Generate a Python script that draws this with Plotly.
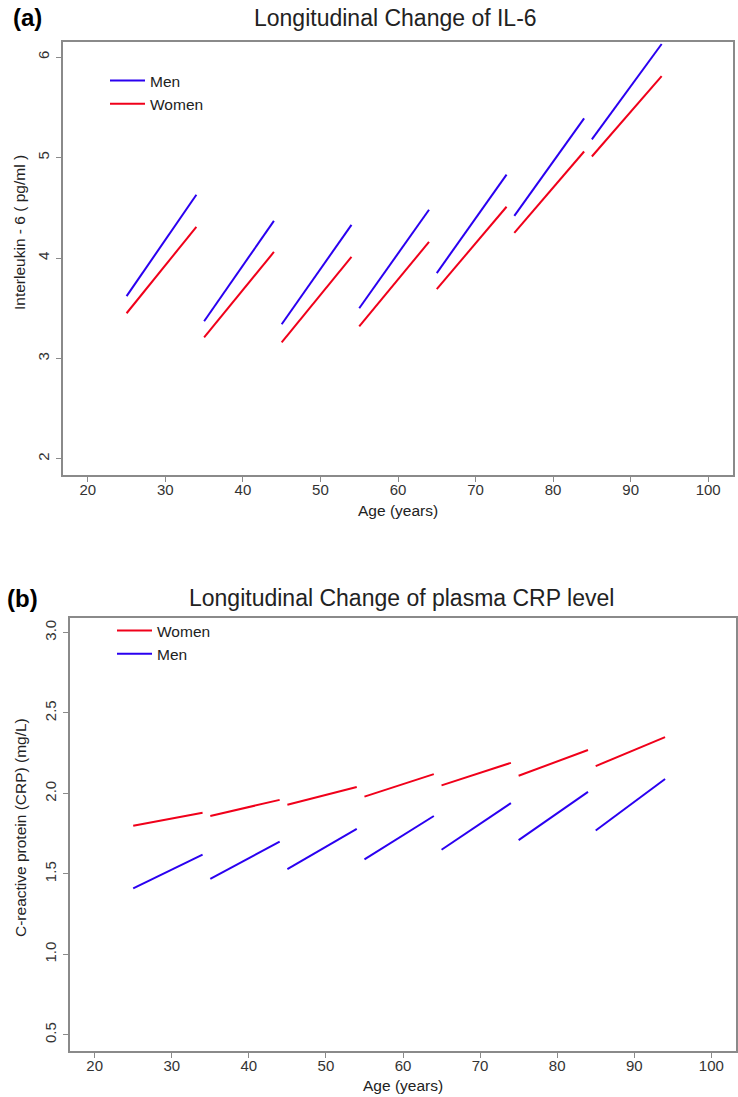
import plotly.graph_objects as go

# Age windows for each follow-up segment
seg_start_age = [25, 35, 45, 55, 65, 75, 85]
seg_end_age = [34, 44, 54, 64, 74, 84, 94]

# (a) IL-6, pg/ml
il6_men_start = [3.62, 3.37, 3.34, 3.50, 3.85, 4.42, 5.18]
il6_men_end = [4.63, 4.37, 4.33, 4.48, 4.83, 5.39, 6.13]
il6_women_start = [3.45, 3.21, 3.16, 3.32, 3.69, 4.25, 5.01]
il6_women_end = [4.31, 4.06, 4.01, 4.16, 4.51, 5.06, 5.81]

# (b) CRP, mg/L
crp_women_start = [1.80, 1.86, 1.93, 1.98, 2.05, 2.11, 2.17]
crp_women_end = [1.88, 1.96, 2.04, 2.12, 2.19, 2.27, 2.35]
crp_men_start = [1.41, 1.47, 1.53, 1.59, 1.65, 1.71, 1.77]
crp_men_end = [1.62, 1.70, 1.78, 1.86, 1.94, 2.01, 2.09]

x_ticks = [20, 30, 40, 50, 60, 70, 80, 90, 100]
il6_ticks = [2, 3, 4, 5, 6]
crp_ticks = [0.5, 1.0, 1.5, 2.0, 2.5, 3.0]
crp_tick_text = ["0.5", "1.0", "1.5", "2.0", "2.5", "3.0"]

BLUE = "#2a00f0"
RED = "#f0001a"
FONT = "Liberation Sans, Arial, sans-serif"
W, H = 738, 1097


def segments(starts, ends):
    # join the short segments into one trace, broken by None
    xs, ys = [], []
    for a0, a1, v0, v1 in zip(seg_start_age, seg_end_age, starts, ends):
        xs += [a0, a1, None]
        ys += [v0, v1, None]
    return xs, ys


fig = go.Figure()

x, y = segments(il6_men_start, il6_men_end)
fig.add_trace(go.Scatter(x=x, y=y, mode="lines", name="Men", line=dict(color=BLUE, width=2),
                         xaxis="x", yaxis="y", legend="legend"))
x, y = segments(il6_women_start, il6_women_end)
fig.add_trace(go.Scatter(x=x, y=y, mode="lines", name="Women", line=dict(color=RED, width=2),
                         xaxis="x", yaxis="y", legend="legend"))

x, y = segments(crp_women_start, crp_women_end)
fig.add_trace(go.Scatter(x=x, y=y, mode="lines", name="Women", line=dict(color=RED, width=2),
                         xaxis="x2", yaxis="y2", legend="legend2"))
x, y = segments(crp_men_start, crp_men_end)
fig.add_trace(go.Scatter(x=x, y=y, mode="lines", name="Men", line=dict(color=BLUE, width=2),
                         xaxis="x2", yaxis="y2", legend="legend2"))

axis_style = dict(showline=True, linecolor="#8a8a8a", linewidth=1.5, mirror=True,
                  ticks="outside", ticklen=5, tickcolor="#8a8a8a", showgrid=False, zeroline=False,
                  tickfont=dict(size=15, color="#333333"))
x_style = dict(axis_style, ticklabelstandoff=-5)
y_style = dict(axis_style, ticklabelstandoff=1)

fig.update_layout(
    width=W, height=H,
    margin=dict(l=0, r=0, t=0, b=0),
    paper_bgcolor="white", plot_bgcolor="white",
    font=dict(family=FONT, color="#222222"),
    showlegend=True,
    xaxis=dict(domain=[63 / W, 733 / W], range=[16.8, 103.2], tickvals=x_ticks,
               anchor="y", **x_style),
    yaxis=dict(domain=[1 - 475 / H, 1 - 42 / H], range=[1.84, 6.15], tickvals=il6_ticks,
               tickangle=-90, anchor="x", **y_style),
    xaxis2=dict(domain=[70 / W, 736 / W], range=[16.8, 103.2], tickvals=x_ticks,
                anchor="y2", **x_style),
    yaxis2=dict(domain=[1 - 1051 / H, 1 - 618 / H], range=[0.40, 3.09], tickvals=crp_ticks,
                ticktext=crp_tick_text, tickangle=-90, anchor="x2", **y_style),
    legend=dict(x=105 / W, y=1 - 64 / H, xanchor="left", yanchor="top", bgcolor="rgba(0,0,0,0)",
                font=dict(size=15.5, color="#222222"), itemwidth=35),
    legend2=dict(x=112 / W, y=1 - 614 / H, xanchor="left", yanchor="top", bgcolor="rgba(0,0,0,0)",
                 font=dict(size=15.5, color="#222222"), itemwidth=35),
)

annotations = [
    dict(text="Longitudinal Change of IL-6", x=395 / W, y=1 - 18 / H, font=dict(size=23)),
    dict(text="Longitudinal Change of plasma CRP level", x=401 / W, y=1 - 598 / H, font=dict(size=23)),
    dict(text="<b>(a)</b>", x=27 / W, y=1 - 18 / H, font=dict(size=24, color="black")),
    dict(text="<b>(b)</b>", x=22 / W, y=1 - 598 / H, font=dict(size=24, color="black")),
    dict(text="Age (years)", x=398 / W, y=1 - 510 / H, font=dict(size=15.5)),
    dict(text="Age (years)", x=403 / W, y=1 - 1085 / H, font=dict(size=15.5)),
    dict(text="Interleukin - 6 ( pg/ml )", x=19 / W, y=1 - 233 / H, textangle=-90, font=dict(size=15.5)),
    dict(text="C-reactive protein (CRP) (mg/L)", x=20 / W, y=1 - 828 / H, textangle=-90, font=dict(size=15.5)),
]
for a in annotations:
    fig.add_annotation(xref="paper", yref="paper", showarrow=False, xanchor="center", yanchor="middle", **a)

# the page body has a default 8px margin; drop it so the figure fills the window
fig.write_html("out.html", config={"displayModeBar": False},
               post_script="document.body.style.margin='0';")
